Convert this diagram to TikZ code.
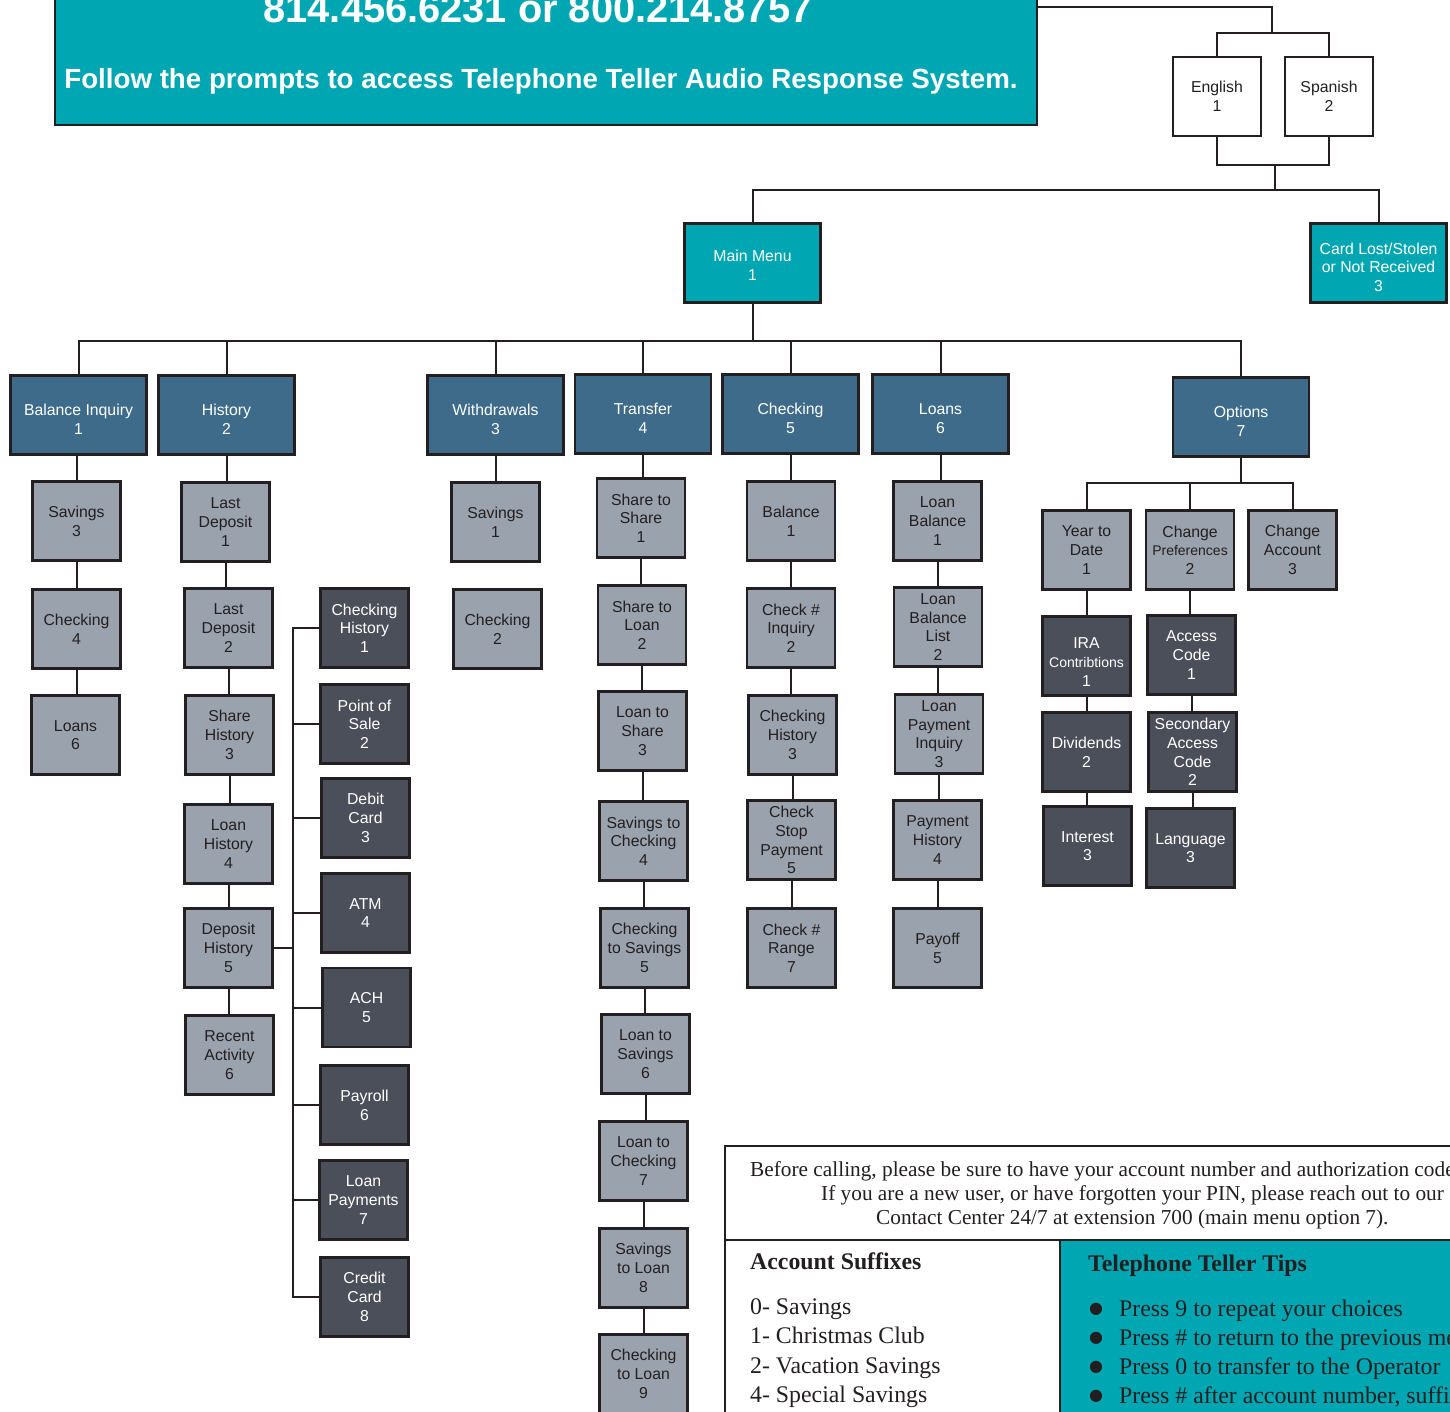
\documentclass[tikz,border=0pt]{standalone}
\usepackage{fontspec}
\setmainfont{Liberation Sans}
\newfontfamily\serifft{Liberation Serif}
\newfontfamily\symft{DejaVu Sans}
\definecolor{tealc}{HTML}{00A6B2}
\definecolor{catc}{HTML}{3D6B89}
\definecolor{grayc}{HTML}{9AA2AD}
\definecolor{darkc}{HTML}{4B4F5A}
\definecolor{linec}{HTML}{231F20}
\tikzset{
  conn/.style={draw=linec, line width=2pt},
  bbox/.style={draw=linec, line width=2.6pt, inner sep=0pt, align=center,
    font=\fontsize{15.8}{18.7}\selectfont, minimum width=88pt, minimum height=79pt},
  tealbox/.style={bbox, fill=tealc, text=white, minimum width=136pt},
  catbox/.style={bbox, fill=catc, text=white, minimum width=136pt, text height=39pt},
  graybox/.style={bbox, fill=grayc, text=linec},
  darkbox/.style={bbox, fill=darkc, text=white},
  whitebox/.style={bbox, fill=white, text=linec},
  para/.style={font=\serifft\fontsize{21.3}{24}\selectfont, text=linec, inner sep=0pt, anchor=base west},
  tip/.style={font=\serifft\fontsize{23.8}{26}\selectfont, text=linec, inner sep=0pt, anchor=base west},
  tiphead/.style={tip, font=\serifft\bfseries\fontsize{23.8}{26}\selectfont},
}
\begin{document}
\begin{tikzpicture}[x=1pt,y=-1pt]
\useasboundingbox (0,0) rectangle (1450,1411);
\clip (0,0) rectangle (1450,1411);
\fill[white] (0,0) rectangle (1450,1411);

% header
\node[draw=linec, line width=2pt, fill=tealc, minimum width=982pt, minimum height=160pt, inner sep=0pt] (hdr) at (546,45) {};
\node[anchor=base, text=white, inner sep=0pt, font=\bfseries\fontsize{39.8}{44}\selectfont] (phone) at (538,22) {814.456.6231 or 800.214.8757};
\node[anchor=base, text=white, inner sep=0pt, font=\bfseries\fontsize{27.7}{30}\selectfont] (follow) at (541,88) {Follow the prompts to access Telephone Teller Audio Response System.};

% language
\node[whitebox] (en) at (1217,96.5) {English\\1};
\node[whitebox] (sp) at (1329,96.5) {Spanish\\2};
\coordinate (t0) at (1100,7);
\coordinate (lang) at (1272,33);
\coordinate (lb) at (1275,165);
\coordinate (mbus) at (1275,190);
\draw[conn] (hdr.east |- t0) -| (lang);
\draw[conn] (en.north) |- (lang) -| (sp.north);
\draw[conn] (en.south) |- (lb) -| (sp.south);
\draw[conn] (lb) -- (mbus);

% main menu
\node[tealbox, text height=34pt] (mm) at (752.5,263) {Main Menu\\1};
\node[tealbox, text height=57pt] (card) at (1378.5,263) {Card Lost/Stolen\\or Not Received\\3};
\draw[conn] (mm.north) |- (mbus) -| (card.north);

% categories
\node[catbox] (bi) at (78.5,415) {Balance Inquiry\\1};
\node[catbox] (hist) at (226.5,415) {History\\2};
\node[catbox] (wd) at (495.5,415) {Withdrawals\\3};
\node[catbox] (tr) at (643,414) {Transfer\\4};
\node[catbox] (ck) at (790.5,414) {Checking\\5};
\node[catbox] (ln) at (940.5,414) {Loans\\6};
\node[catbox] (opt) at (1241,417) {Options\\7};
\coordinate (cbus) at (753,341);
\draw[conn] (mm.south) -- (mm.south |- cbus);
\draw[conn] (bi.north) |- (cbus) -| (opt.north);
\foreach \n in {hist,wd,tr,ck,ln} \draw[conn] (\n.north) -- (\n.north |- cbus);

% balance inquiry
\node[graybox] (bi1) at (76.5,521) {Savings\\3};
\node[graybox] (bi2) at (76.5,629) {Checking\\4};
\node[graybox] (bi3) at (75.5,735) {Loans\\6};
\draw[conn] (bi1.north |- bi.south) -- (bi1.north);
\draw[conn] (bi1.south) -- (bi1.south |- bi2.north);
\draw[conn] (bi2.south) -- (bi2.south |- bi3.north);

% history
\node[graybox] (h1) at (225.5,522) {Last\\Deposit\\1};
\node[graybox] (h2) at (228.5,628) {Last\\Deposit\\2};
\node[graybox] (h3) at (229.5,735) {Share\\History\\3};
\node[graybox] (h4) at (228.5,844) {Loan\\History\\4};
\node[graybox] (h5) at (228.5,948) {Deposit\\History\\5};
\node[graybox] (h6) at (229.5,1055) {Recent\\Activity\\6};
\draw[conn] (hist.south) -- (hist.south |- h1.north);
\draw[conn] (h1.south) -- (h1.south |- h2.north);
\draw[conn] (h2.south) -- (h2.south |- h3.north);
\draw[conn] (h3.south) -- (h3.south |- h4.north);
\draw[conn] (h4.south) -- (h4.south |- h5.north);
\draw[conn] (h5.south) -- (h5.south |- h6.north);

\node[darkbox] (d1) at (364.5,628) {Checking\\History\\1};
\node[darkbox] (d2) at (364.5,724) {Point of\\Sale\\2};
\node[darkbox] (d3) at (365.5,818) {Debit\\Card\\3};
\node[darkbox] (d4) at (365.5,913) {ATM\\4};
\node[darkbox] (d5) at (366.5,1007.5) {ACH\\5};
\node[darkbox] (d6) at (364.5,1105) {Payroll\\6};
\node[darkbox] (d7) at (363.5,1200) {Loan\\Payments\\7};
\node[darkbox] (d8) at (364.5,1297) {Credit\\Card\\8};
\coordinate (hb) at (293,948);
\draw[conn] (h5.east) -- (hb);
\draw[conn] (d1.west) -| (hb);
\draw[conn] (d8.west) -| (hb);
\foreach \n in {d2,d3,d4,d5,d6,d7} \draw[conn] (\n.west) -- (\n.west -| hb);

% withdrawals
\node[graybox] (w1) at (495.5,522) {Savings\\1};
\node[graybox] (w2) at (497.5,629) {Checking\\2};
\draw[conn] (wd.south) -- (wd.south |- w1.north);

% transfer
\node[graybox] (t1) at (641,518) {Share to\\Share\\1};
\node[graybox] (t2) at (642,625) {Share to\\Loan\\2};
\node[graybox] (t3) at (642.5,731) {Loan to\\Share\\3};
\node[graybox] (t4) at (643.5,841) {Savings to\\Checking\\4};
\node[graybox] (t5) at (644.5,948) {Checking\\to Savings\\5};
\node[graybox] (t6) at (645.5,1054) {Loan to\\Savings\\6};
\node[graybox] (t7) at (643.5,1161) {Loan to\\Checking\\7};
\node[graybox] (t8) at (643.5,1268) {Savings\\to Loan\\8};
\node[graybox] (t9) at (643.5,1374) {Checking\\to Loan\\9};
\draw[conn] (tr.south) -- (tr.south |- t1.north);
\draw[conn] (t1.south) -- (t1.south |- t2.north);
\draw[conn] (t2.south) -- (t2.south |- t3.north);
\draw[conn] (t3.south) -- (t3.south |- t4.north);
\draw[conn] (t4.south) -- (t4.south |- t5.north);
\draw[conn] (t5.south) -- (t5.south |- t6.north);
\draw[conn] (t6.south) -- (t6.south |- t7.north);
\draw[conn] (t7.south) -- (t7.south |- t8.north);
\draw[conn] (t8.south) -- (t8.south |- t9.north);

% checking
\node[graybox] (c1) at (791,521) {Balance\\1};
\node[graybox] (c2) at (791,628) {Check \#\\Inquiry\\2};
\node[graybox] (c3) at (792.5,735) {Checking\\History\\3};
\node[graybox] (c4) at (791.5,840) {Check\\Stop\\Payment\\5};
\node[graybox] (c5) at (791.5,948) {Check \#\\Range\\7};
\draw[conn] (ck.south) -- (ck.south |- c1.north);
\draw[conn] (c1.south) -- (c1.south |- c2.north);
\draw[conn] (c2.south) -- (c2.south |- c3.north);
\draw[conn] (c3.south) -- (c3.south |- c4.north);
\draw[conn] (c4.south) -- (c4.south |- c5.north);

% loans
\node[graybox] (l1) at (937.5,521) {Loan\\Balance\\1};
\node[graybox] (l2) at (938,627) {Loan\\Balance\\List\\2};
\node[graybox] (l3) at (939,734) {Loan\\Payment\\Inquiry\\3};
\node[graybox] (l4) at (937.5,840) {Payment\\History\\4};
\node[graybox] (l5) at (937.5,948) {Payoff\\5};
\draw[conn] (ln.south) -- (ln.south |- l1.north);
\draw[conn] (l1.south) -- (l1.south |- l2.north);
\draw[conn] (l2.south) -- (l2.south |- l3.north);
\draw[conn] (l3.south) -- (l3.south |- l4.north);
\draw[conn] (l4.south) -- (l4.south |- l5.north);

% options
\node[graybox] (o1) at (1086.5,550) {Year to\\Date\\1};
\node[graybox] (o2) at (1190,550) {Change\\{\fontsize{14}{18.7}\selectfont Preferences}\\2};
\node[graybox] (o3) at (1292.5,550) {Change\\Account\\3};
\coordinate (obus) at (1241,483);
\draw[conn] (opt.south) -- (obus);
\draw[conn] (o1.north) |- (obus) -| (o3.north);
\draw[conn] (o2.north) -- (o2.north |- obus);

\node[darkbox, text height=60pt] (y1) at (1086.5,656) {IRA\\{\fontsize{14}{18.7}\selectfont Contribtions}\\1};
\node[darkbox] (y2) at (1086.5,752) {Dividends\\2};
\node[darkbox] (y3) at (1087.5,846) {Interest\\3};
\draw[conn] (o1.south) -- (o1.south |- y1.north);
\draw[conn] (y1.south) -- (y1.south |- y2.north);
\draw[conn] (y2.south) -- (y2.south |- y3.north);

\node[darkbox] (p1) at (1191.5,655) {Access\\Code\\1};
\node[darkbox] (p2) at (1192.5,752) {Secondary\\Access\\Code\\2};
\node[darkbox] (p3) at (1190.5,848) {Language\\3};
\draw[conn] (o2.south) -- (o2.south |- p1.north);
\draw[conn] (p1.south) -- (p1.south |- p2.north);
\draw[conn] (p2.south) -- (p2.south |- p3.north);

% info panel
\fill[white] (725,1146) rectangle (1470,1425);
\fill[tealc] (1060,1240) rectangle (1470,1425);
\draw[draw=linec, line width=2.6pt] (1470,1146) -- (725,1146) -- (725,1425);
\draw[draw=linec, line width=2.6pt] (725,1240) -- (1470,1240);
\draw[draw=linec, line width=2.6pt] (1060,1425) -- (1060,1240);

\node[para] (b1) at (750,1176) {Before calling, please be sure to have your account number and authorization code};
\node[para] (b2) at (821,1200) {If you are a new user, or have forgotten your PIN, please reach out to our};
\node[para] (b3) at (876,1224) {Contact Center 24/7 at extension 700 (main menu option 7).};

\node[tiphead] (as) at (750,1269) {Account Suffixes};
\node[tip] (s0) at (750,1314) {0- Savings};
\node[tip] (s1) at (750,1343) {1- Christmas Club};
\node[tip] (s2) at (750,1373) {2- Vacation Savings};
\node[tip] (s4) at (750,1402) {4- Special Savings};

\node[tiphead] (tt) at (1088,1271) {Telephone Teller Tips};
\foreach \yy/\nm/\tx in {1316/k1/{Press 9 to repeat your choices},1345/k2/{Press \# to return to the previous menu},1374/k3/{Press 0 to transfer to the Operator},1403/k4/{Press \# after account number, suffix}}{
  \node[inner sep=0pt, text=linec, font=\symft\fontsize{16}{16}\selectfont] (\nm b) at (1096,\yy-7) {●};
  \node[tip] (\nm) at (1119,\yy) {\tx};
}
\end{tikzpicture}
\end{document}
